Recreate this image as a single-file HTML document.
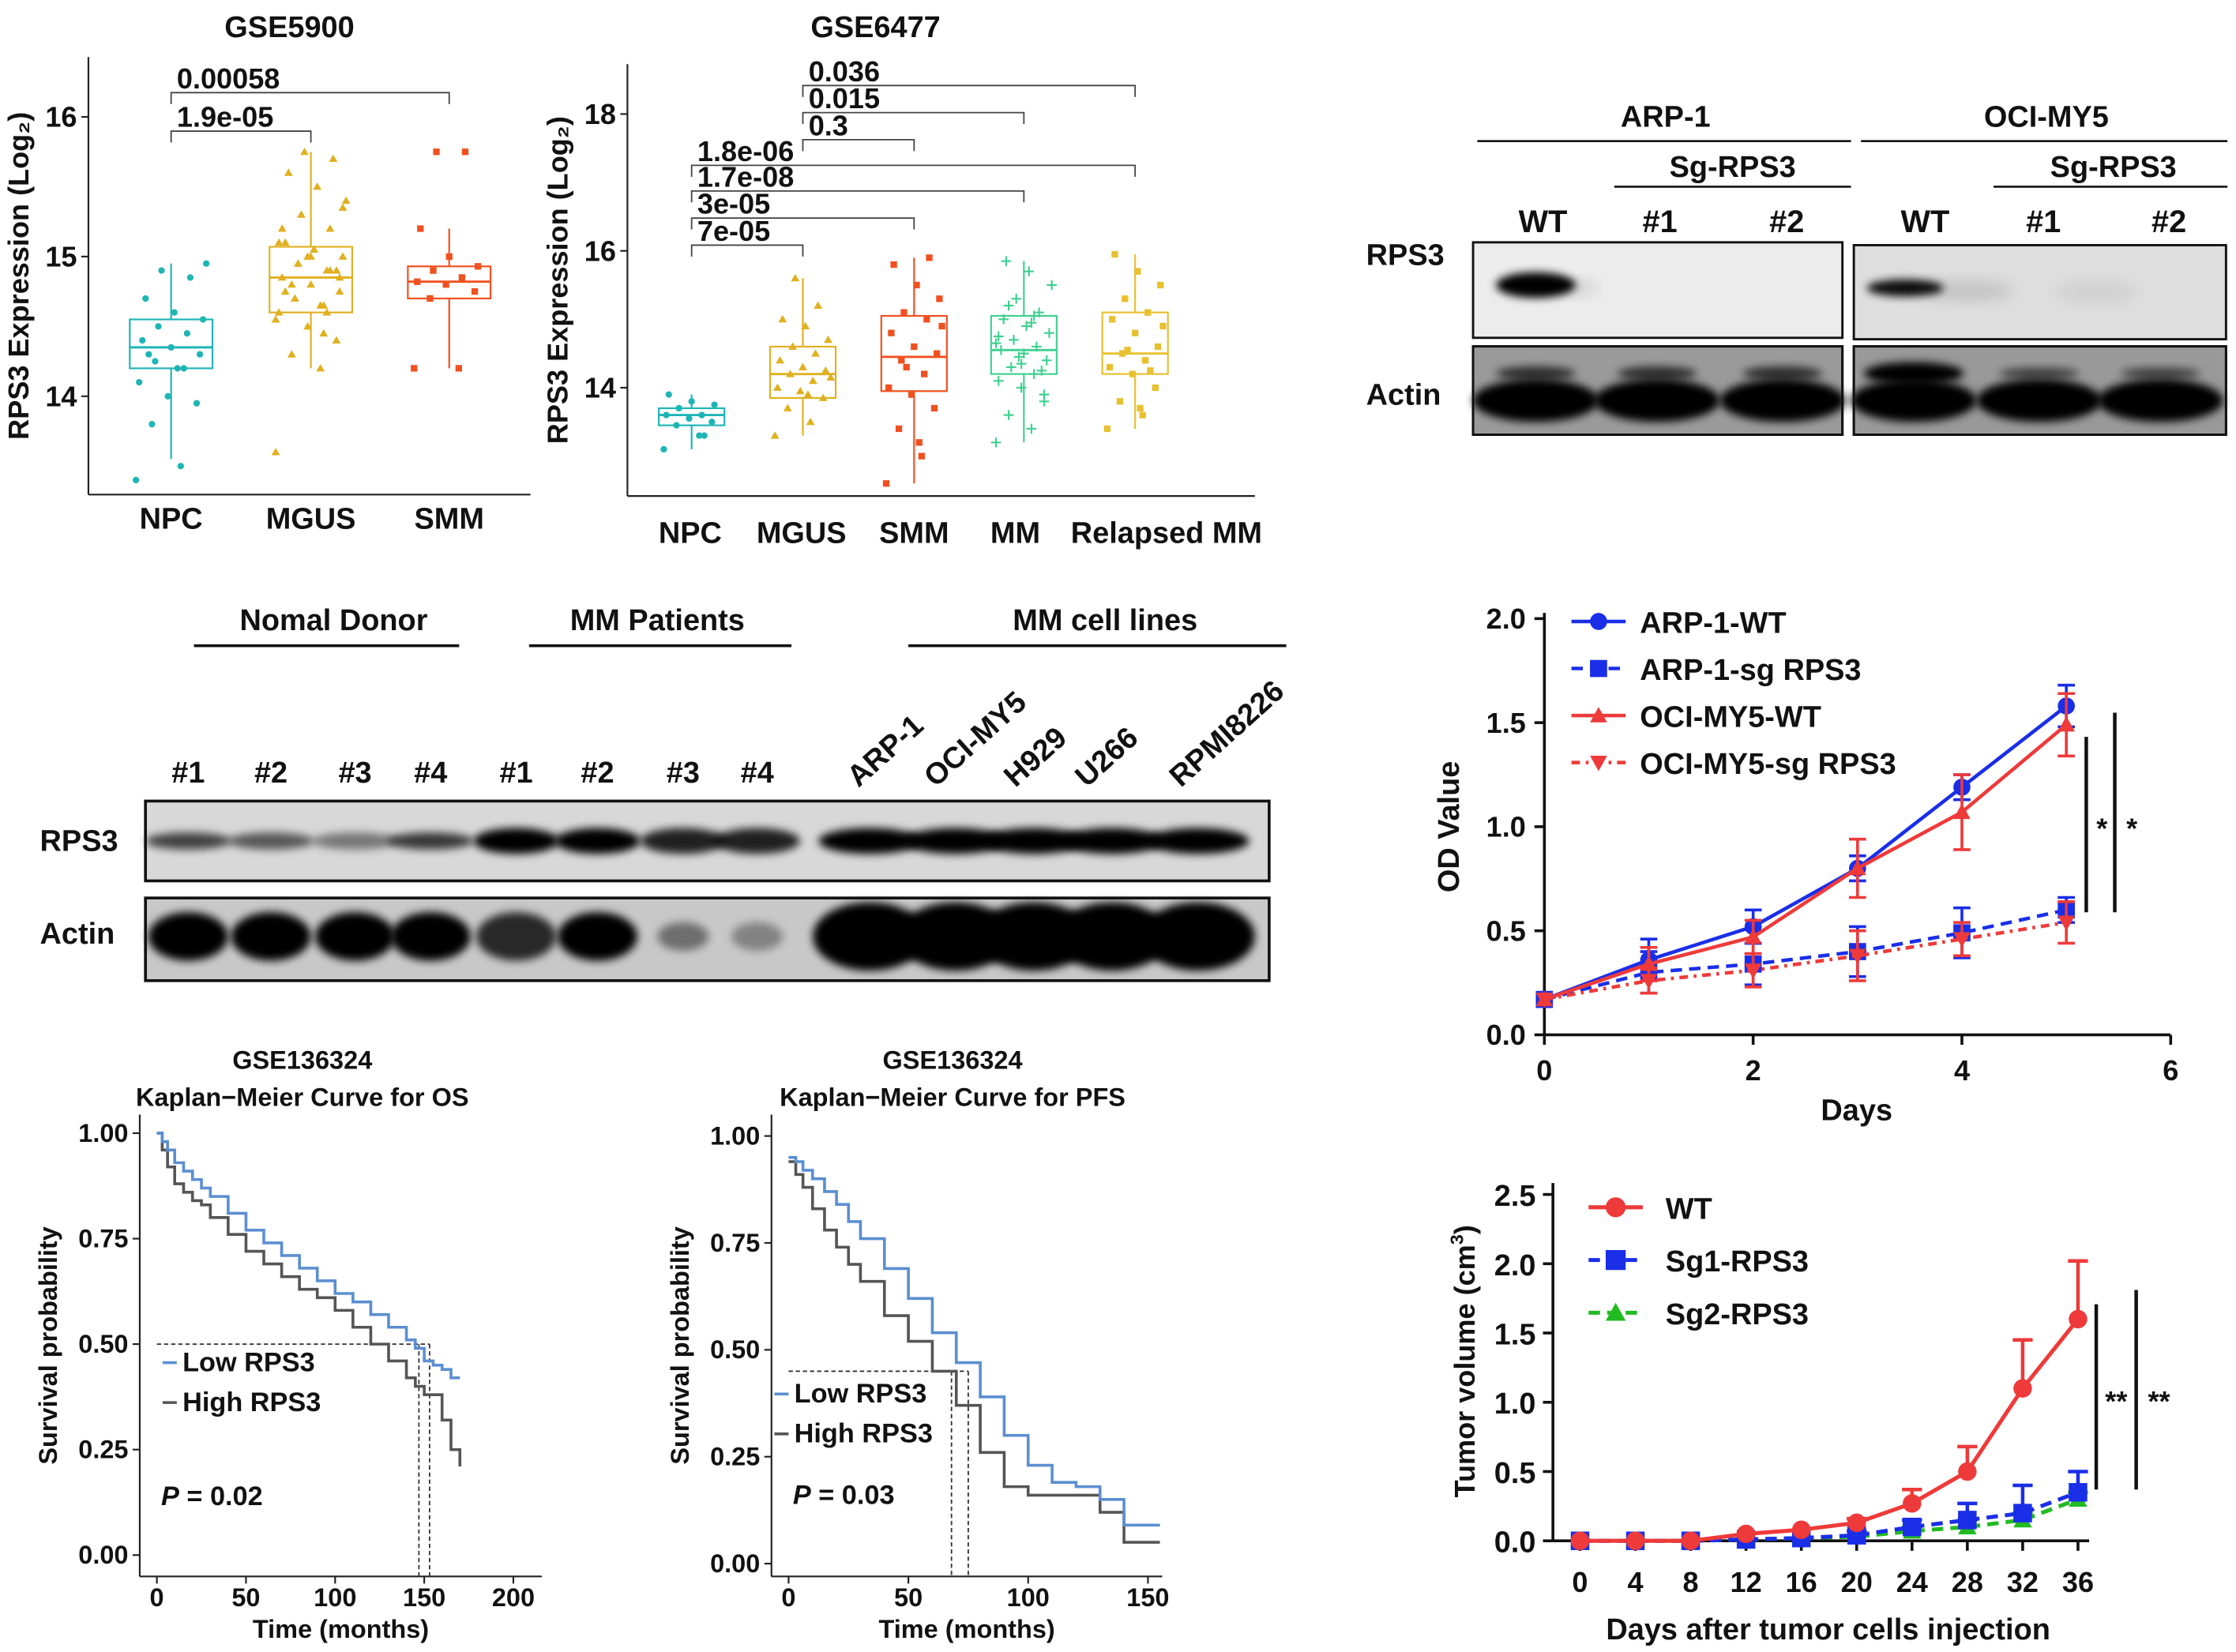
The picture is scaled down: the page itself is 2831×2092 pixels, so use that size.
<!DOCTYPE html>
<html><head><meta charset="utf-8">
<style>
html,body{margin:0;padding:0;background:#fff}
svg{display:block}
text{font-family:"Liberation Sans",sans-serif;font-weight:bold;fill:#111}
</style></head>
<body>
<svg id="fig" width="2831" height="2092" viewBox="0 0 1568 1159" preserveAspectRatio="none" xmlns="http://www.w3.org/2000/svg">
<defs>
<filter id="blur2" x="-20%" y="-50%" width="140%" height="200%"><feGaussianBlur stdDeviation="3"/></filter>
<filter id="blur4" x="-20%" y="-50%" width="140%" height="200%"><feGaussianBlur stdDeviation="5"/></filter>
</defs>
<g id="root"></g>
</svg>
<script>
// ---------- data ----------
const g1Cats=["NPC","MGUS","SMM"];
const g1Q1=[14.2,14.6,14.7], g1Med=[14.35,14.85,14.82], g1Q3=[14.55,15.07,14.93];
const g1Lo=[13.55,14.2,14.2], g1Hi=[14.95,15.75,15.2];
const g1Pts=[[13.4,13.5,13.8,13.95,14.0,14.1,14.2,14.25,14.3,14.35,14.4,14.45,14.5,14.55,14.6,14.7,14.85,14.9,14.95,14.2,14.3],
 [13.6,14.2,14.3,14.4,14.5,14.6,14.65,14.7,14.75,14.8,14.85,14.9,14.95,15.0,15.05,15.1,15.2,15.3,15.4,15.5,15.6,15.7,15.75,14.55,14.65,14.8,14.9,15.0,15.1,14.45,14.7,14.85,15.0,15.2,14.6,14.95,15.35,15.05,14.75,14.9],
 [14.2,14.2,14.7,14.75,14.8,14.82,14.85,14.9,14.93,15.0,15.2,15.75,15.75]];
const g1Brk=[["1.9e-05",0,1],["0.00058",0,2]];
const g2Cats=["NPC","MGUS","SMM","MM","Relapsed MM"];
const g2Q1=[13.45,13.85,13.95,14.2,14.2], g2Med=[13.6,14.2,14.45,14.55,14.5], g2Q3=[13.7,14.6,15.05,15.05,15.1];
const g2Lo=[13.1,13.3,12.6,13.2,13.4], g2Hi=[13.9,15.6,15.9,15.85,15.95];
const g2Brk=[["7e-05",0,1],["3e-05",0,2],["1.7e-08",0,3],["1.8e-06",0,4],["0.3",1,2],["0.015",1,3],["0.036",1,4]];
const g2Pts=[[13.1,13.3,13.45,13.5,13.55,13.6,13.6,13.7,13.75,13.8,13.9,13.3],
 [13.3,13.5,13.7,13.85,13.95,14.0,14.1,14.2,14.25,14.3,14.4,14.5,14.6,14.7,14.9,15.0,15.2,15.6,14.15,13.9],
 [12.6,13.0,13.4,13.7,13.9,14.0,14.2,14.4,14.5,14.6,14.8,15.0,15.1,15.3,15.5,15.8,15.9,14.3,14.9,13.2],
 [13.2,13.4,13.6,13.8,14.0,14.1,14.2,14.3,14.4,14.5,14.55,14.6,14.7,14.8,14.9,15.0,15.1,15.3,15.5,15.7,15.85,14.25,14.45,14.65,14.95,15.2,13.9,14.35,14.75,15.05],
 [13.4,13.6,13.8,14.0,14.2,14.3,14.4,14.5,14.6,14.8,15.0,15.1,15.3,15.5,15.7,15.95,14.25,14.55,14.9,13.7]];
const odDays=[0,1,2,3,4,5];
const odNames=["ARP-1-WT","ARP-1-sg RPS3","OCI-MY5-WT","OCI-MY5-sg RPS3"];
const odArpWT=[0.17,0.36,0.52,0.80,1.19,1.58], odArpWTe=[0,0.1,0.08,0.06,0.06,0.1];
const odArpSg=[0.17,0.30,0.34,0.40,0.49,0.60], odArpSge=[0,0.1,0.1,0.12,0.12,0.06];
const odOciWT=[0.17,0.34,0.47,0.80,1.07,1.49], odOciWTe=[0,0.08,0.08,0.14,0.18,0.15];
const odOciSg=[0.17,0.26,0.31,0.38,0.46,0.54], odOciSge=[0,0.06,0.08,0.12,0.08,0.1];
const tvDays=[0,4,8,12,16,20,24,28,32,36];
const tvWT=[0,0,0,0.05,0.08,0.13,0.27,0.5,1.1,1.6], tvWTe=[0,0,0,0.01,0.02,0.03,0.1,0.18,0.35,0.42];
const tvSg1=[0,0,0,0.01,0.02,0.04,0.1,0.15,0.2,0.35], tvSg1e=[0,0,0,0.01,0.02,0.03,0.05,0.12,0.2,0.15];
const tvSg2=[0,0,0,0.01,0.02,0.03,0.07,0.1,0.15,0.3], tvSg2e=[0,0,0,0.01,0.01,0.02,0.03,0.05,0.05,0.05];
const osLowT=[0,3,6,10,15,20,25,30,40,50,60,70,80,90,100,110,120,130,140,145,150,155,160,165,170];
const osLowS=[1,.98,.96,.93,.91,.89,.87,.85,.81,.77,.74,.71,.68,.65,.62,.60,.57,.54,.51,.49,.46,.45,.44,.42,.42];
const osHighT=[0,3,6,10,15,20,25,30,40,50,60,70,80,90,100,110,120,130,140,145,150,155,160,165,170];
const osHighS=[1,.96,.92,.88,.86,.84,.83,.80,.76,.72,.69,.66,.63,.61,.58,.54,.50,.46,.42,.40,.38,.38,.32,.25,.21];
const pfsLowT=[0,3,6,10,15,20,25,30,40,50,60,70,80,90,100,110,120,130,140,150,155];
const pfsLowS=[.95,.94,.92,.90,.87,.84,.80,.76,.69,.62,.54,.47,.39,.30,.23,.19,.18,.15,.09,.09,.09];
const pfsHighT=[0,3,6,10,15,20,25,30,40,50,60,70,80,90,100,110,120,130,140,150,155];
const pfsHighS=[.94,.91,.88,.83,.78,.74,.70,.66,.58,.52,.45,.37,.26,.18,.16,.16,.16,.12,.05,.05,.05];

// ---------- helpers ----------
const NS="http://www.w3.org/2000/svg";
const root=document.getElementById('root');
function el(tag,attrs,parent,txt){const e=document.createElementNS(NS,tag);for(const k in attrs)e.setAttribute(k,attrs[k]);if(txt!==undefined)e.textContent=txt;(parent||root).appendChild(e);return e;}
function line(x1,y1,x2,y2,st,w,p,dash){const a={x1,y1,x2,y2,stroke:st||'#111','stroke-width':w||1.5};if(dash)a['stroke-dasharray']=dash;return el('line',a,p);}
function txt(x,y,s,size,anchor,p,extra){const a={x,y,'font-size':size,'text-anchor':anchor||'middle'};Object.assign(a,extra||{});return el('text',a,p,s);}
function grp(name){const g=el('g',{},root);return g;}
function pt(p,shape,x,y,c){
  if(shape==0)el('circle',{cx:x,cy:y,r:2.3,fill:c},p);
  else if(shape==1)el('path',{d:`M${x},${y-3}L${x+3},${y+2.2}L${x-3},${y+2.2}Z`,fill:c},p);
  else if(shape==2)el('rect',{x:x-2.3,y:y-2.3,width:4.6,height:4.6,fill:c},p);
  else el('path',{d:`M${x-3.5},${y}H${x+3.5}M${x},${y-3.5}V${y+3.5}`,stroke:c,'stroke-width':1.2},p);
}

// ---------- boxplot ----------
function boxplot(name,title,tx,x0,xEnd,yTop,yBot,ys,ticks,cats,cx,lblx,cols,shapes,q1,med,q3,lo,hi,pts,brk,brkY,catY,bw,ylab){
  const g=grp(name);
  const Y=v=>ys(v);
  txt(tx,26,title,21,'middle',g);
  line(x0,yTop,x0,yBot,'#222',1.2,g);line(x0,yBot,xEnd,yBot,'#222',1.2,g);
  ticks.forEach(t=>{line(x0-5,Y(t),x0,Y(t),'#222',1.2,g);const e=txt(x0-8,Y(t)+7,String(t),20,'end',g);});
  const yl=txt(0,0,ylab[0],20,'middle',g,{transform:`translate(${ylab[1]},${(yTop+yBot)/2}) rotate(-90)`});
  
  cats.forEach((c,i)=>{
    const x=cx[i];
    const e=txt(lblx[i],catY,c,21,'middle',g);
    line(x,Y(hi[i]),x,Y(q3[i]),cols[i],1.2,g);line(x,Y(q1[i]),x,Y(lo[i]),cols[i],1.2,g);
    const r=el('rect',{x:x-bw/2,y:Y(q3[i]),width:bw,height:Y(q1[i])-Y(q3[i]),fill:'none',stroke:cols[i],'stroke-width':1.2},g);
    
    line(x-bw/2,Y(med[i]),x+bw/2,Y(med[i]),cols[i],1.6,g);
    (pts[i]||[]).forEach((v,j)=>{const jx=x+(((j*37)%23)/22-0.5)*bw*0.85;pt(g,shapes[i],jx,Y(v),cols[i]);});
  });
  brk.forEach((b,k)=>{
    const y=brkY[k],a=cx[b[1]],c=cx[b[2]];
    el('path',{d:`M${a},${y+8}V${y}H${c}V${y+8}`,fill:'none',stroke:'#444','stroke-width':1},g);
    const e=txt(a+4,y-3,b[0],20,'start',g);
  });
}
const y1=v=>180-(v-15)*98;
boxplot('gse5900-boxplot','GSE5900',203,62,372,40,347,y1,[14,15,16],g1Cats,[120,218,315],[120,218,315],['#1fb5b5','#e0b020','#f05020'],[0,1,2],
  g1Q1,g1Med,g1Q3,g1Lo,g1Hi,g1Pts,g1Brk,[92,65],371,58,['RPS3 Expression (Log₂)',20]);
const y2=v=>176-(v-16)*48;
boxplot('gse6477-boxplot','GSE6477',614,440,880,45,348,y2,[14,16,18],g2Cats,[485,563,641,718,796],[484,562,641,712,818],['#1fb5b5','#e0b020','#f05020','#40d090','#e8c030'],[0,1,2,3,2],
  g2Q1,g2Med,g2Q3,g2Lo,g2Hi,g2Pts,g2Brk,[172,153,134,116,98,79,60],381,46,['RPS3 Expression (Log₂)',398]);

// ---------- western blots ----------
function blotBox(g,x,y,w,h,bg){el('rect',{x,y,width:w,height:h,fill:bg||'#eee',stroke:'#111','stroke-width':1.6},g);}
function band(g,cx,cy,rx,ry,op,f){el('ellipse',{cx,cy,rx,ry,fill:'#000','fill-opacity':op,filter:'url(#'+(f||'blur2')+')'},g);}
(function(){
  const g=grp('western-blot-sg-rps3');
  txt(1168,89,'ARP-1',21,'middle',g);txt(1435,89,'OCI-MY5',21,'middle',g);
  line(1036,99,1298,99,'#111',1.5,g);line(1305,99,1562,99,'#111',1.5,g);
  txt(1215,124,'Sg-RPS3',21,'middle',g);txt(1482,124,'Sg-RPS3',21,'middle',g);
  line(1132,131,1298,131,'#111',1.5,g);line(1398,131,1562,131,'#111',1.5,g);
  [['WT',1082],['#1',1164],['#2',1253],['WT',1350],['#1',1433],['#2',1521]].forEach(a=>txt(a[1],163,a[0],22,'middle',g));
  txt(958,186,'RPS3',21,'start',g);txt(958,284,'Actin',21,'start',g);
  blotBox(g,1033,170,259,67,'#ececec');blotBox(g,1300,172,261,66,'#dedede');
  band(g,1077,200,28,9,1);band(g,1336,202,27,6,0.95);band(g,1108,202,12,5,0.12,'blur4');band(g,1380,204,32,7,0.12,'blur4');band(g,1470,205,30,8,0.06,'blur4');
  blotBox(g,1033,243,259,62,'#9a9a9a');blotBox(g,1300,243,261,62,'#999');
  [1077,1162,1250].forEach(c=>{band(g,c,281,44,15,1);band(g,c,262,28,5,0.7);});
  [1342,1430,1515].forEach((c,i)=>{band(g,c,281,44,15,1);band(g,c,262,i?28:35,i?4:8,i?0.6:1);});
  el('rect',{x:1033,y:243,width:259,height:62,fill:'none',stroke:'#111','stroke-width':1.6},g);
  el('rect',{x:1300,y:243,width:261,height:62,fill:'none',stroke:'#111','stroke-width':1.6},g);
})();
(function(){
  const g=grp('western-blot-patients');
  txt(234,442,'Nomal Donor',21,'middle',g);txt(461,442,'MM Patients',21,'middle',g);txt(775,442,'MM cell lines',21,'middle',g);
  line(136,453,322,453,'#111',2,g);line(371,453,555,453,'#111',2,g);line(637,453,902,453,'#111',2,g);
  const lx=[132,190,249,302,362,419,479,531];
  ['#1','#2','#3','#4','#1','#2','#3','#4'].forEach((s,i)=>txt(lx[i],549,s,21,'middle',g));
  [['ARP-1',602],['OCI-MY5',656],['H929',712],['U266',762],['RPMI8226',828]].forEach(a=>txt(0,0,a[0],21,'start',g,{transform:`translate(${a[1]},553) rotate(-42)`}));
  txt(28,597,'RPS3',21,'start',g);txt(28,662,'Actin',21,'start',g);
  blotBox(g,102,562,788,56,'#d8d8d8');
  const rp=[0.7,0.6,0.45,0.75,1,1,0.85,0.85,1,1,1,1,1];const rx=[132,190,249,302,362,419,479,531,610,670,725,780,840];
  rx.forEach((c,i)=>band(g,c,590,i>7?36:30,i>3?9:6,rp[i]));
  el('rect',{x:102,y:562,width:788,height:56,fill:'none',stroke:'#111','stroke-width':2},g);
  blotBox(g,102,630,788,58,'#c8c8c8');
  const ap=[1,1,1,1,0.8,1,0.45,0.35];lx.forEach((c,i)=>band(g,c,657,i>5?18:28,i>5?10:17,ap[i]));
  [610,670,725,780,840].forEach(c=>band(g,c,657,40,24,1));
  el('rect',{x:102,y:630,width:788,height:58,fill:'none',stroke:'#111','stroke-width':2},g);
})();

// ---------- OD line chart ----------
(function(){
  const g=grp('od-value-chart');
  const X=d=>1083+d*73.2, Y=v=>726-v*146;
  line(1083,430,1083,726,'#111',2,g);line(1083,726,1522,726,'#111',2,g);
  [0,0.5,1,1.5,2].forEach(t=>{line(1076,Y(t),1083,Y(t),'#111',2,g);txt(1070,Y(t)+7,t.toFixed(1),20,'end',g);});
  [0,2,4,6].forEach(t=>{line(X(t),726,X(t),733,'#111',2,g);txt(X(t),758,String(t),20,'middle',g);});
  txt(1302,786,'Days',21,'middle',g);
  txt(0,0,'OD Value',21,'middle',g,{transform:'translate(1023,580) rotate(-90)'});
  const series=[[odArpWT,odArpWTe,'#1a2ee8','',0],[odArpSg,odArpSge,'#1a2ee8','8,5',1],[odOciWT,odOciWTe,'#ee3a3a','',2],[odOciSg,odOciSge,'#ee3a3a','6,4,2,4',3]];
  function marker(p,k,x,y,c,r){if(k==0)el('circle',{cx:x,cy:y,r,fill:c},p);else if(k==1)el('rect',{x:x-r,y:y-r,width:2*r,height:2*r,fill:c},p);
    else if(k==2)el('path',{d:`M${x},${y-r}L${x+r},${y+r*0.8}L${x-r},${y+r*0.8}Z`,fill:c},p);else el('path',{d:`M${x},${y+r}L${x+r},${y-r*0.8}L${x-r},${y-r*0.8}Z`,fill:c},p);}
  series.forEach(s=>{
    const sg=el('g',{},g);
    const d=odDays.map((x,i)=>(i?'L':'M')+X(x)+','+Y(s[0][i])).join('');
    const p={d,fill:'none',stroke:s[2],'stroke-width':2.5};if(s[3])p['stroke-dasharray']=s[3];el('path',p,sg);
    odDays.forEach((x,i)=>{const e=s[1][i];if(e){line(X(x),Y(s[0][i]-e),X(x),Y(s[0][i]+e),s[2],2,sg);line(X(x)-6,Y(s[0][i]+e),X(x)+6,Y(s[0][i]+e),s[2],2,sg);line(X(x)-6,Y(s[0][i]-e),X(x)+6,Y(s[0][i]-e),s[2],2,sg);}
      marker(sg,s[4],X(x),Y(s[0][i]),s[2],6);});
  });
  series.forEach((s,i)=>{const y=436+i*33;const p={x1:1102,y1:y,x2:1140,y2:y,stroke:s[2],'stroke-width':2.5};if(s[3])p['stroke-dasharray']=s[3];el('line',p,g);marker(g,s[4],1121,y,s[2],6);
    const e=txt(1150,y+8,odNames[i],21,'start',g);});
  line(1463,517,1463,640,'#111',2.5,g);line(1483,500,1483,640,'#111',2.5,g);
  txt(1474,588,'*',20,'middle',g);txt(1495,588,'*',20,'middle',g);
})();

// ---------- tumor volume ----------
(function(){
  const g=grp('tumor-volume-chart');
  const X=d=>1108+d*9.7, Y=v=>1081-v*97.2;
  line(1089,830,1089,1081,'#111',2,g);line(1089,1081,1465,1081,'#111',2,g);
  [0,0.5,1,1.5,2,2.5].forEach(t=>{line(1082,Y(t),1089,Y(t),'#111',2,g);txt(1077,Y(t)+8,t.toFixed(1),21,'end',g);});
  tvDays.forEach(t=>{line(X(t),1081,X(t),1088,'#111',2,g);txt(X(t),1117,String(t),20,'middle',g);});
  txt(1282,1150,'Days after tumor cells injection',21,'middle',g);
  const yt=txt(0,0,'Tumor volume (cm',20,'middle',g,{transform:'translate(1034,955) rotate(-90)'});
  el('tspan',{'font-size':13,dy:-8},yt,'3');el('tspan',{dy:8},yt,')');
  const S=[[tvWT,tvWTe,'#ee3a3a','',0,'WT'],[tvSg1,tvSg1e,'#1a2ee8','8,5',1,'Sg1-RPS3'],[tvSg2,tvSg2e,'#22bb22','8,5',2,'Sg2-RPS3']];
  function mk(p,k,x,y,c,r){if(k==0)el('circle',{cx:x,cy:y,r,fill:c},p);else if(k==1)el('rect',{x:x-r,y:y-r,width:2*r,height:2*r,fill:c},p);else el('path',{d:`M${x},${y-r}L${x+r},${y+r*0.8}L${x-r},${y+r*0.8}Z`,fill:c},p);}
  S.slice().reverse().forEach(s=>{
    const sg=el('g',{},g);
    const p={d:tvDays.map((x,i)=>(i?'L':'M')+X(x)+','+Y(s[0][i])).join(''),fill:'none',stroke:s[2],'stroke-width':2.8};if(s[3])p['stroke-dasharray']=s[3];el('path',p,sg);
    tvDays.forEach((x,i)=>{const e=s[1][i];if(e>0.02){line(X(x),Y(s[0][i]),X(x),Y(s[0][i]+e),s[2],2.5,sg);line(X(x)-7,Y(s[0][i]+e),X(x)+7,Y(s[0][i]+e),s[2],2.5,sg);}mk(sg,s[4],X(x),Y(s[0][i]),s[2],6.5);});
  });
  S.forEach((s,i)=>{const y=847+i*37;const p={x1:1114,y1:y,x2:1152,y2:y,stroke:s[2],'stroke-width':2.8};if(s[3])p['stroke-dasharray']=s[3];el('line',p,g);mk(g,s[4],1133,y,s[2],7);
    txt(1168,y+8,s[5],21,'start',g);});
  line(1470,915,1470,1045,'#111',2.5,g);line(1498,905,1498,1045,'#111',2.5,g);
  txt(1484,990,'**',20,'middle',g);txt(1514,990,'**',20,'middle',g);
})();

// ---------- KM curves ----------
function km(name,t1,t2,x0,xScale,y0,yTopPx,xTicks,xEnd,lowT,lowS,highT,highS,med,medX,legY,legX,pTxt,pX,pY,tcx){
  const g=grp(name);
  const X=t=>x0+t*xScale, Y=s=>y0-s*(y0-yTopPx);
  txt(tcx,750,t1,18,'middle',g);txt(tcx,776,t2,18,'middle',g);
  const ax=x0-12;
  line(ax,782,ax,1106,'#222',1.2,g);line(ax,1106,xEnd,1106,'#222',1.2,g);
  [0,0.25,0.5,0.75,1].forEach(s=>{line(ax-5,Y(s),ax,Y(s),'#222',1.2,g);txt(ax-8,Y(s)+6,s.toFixed(2),18,'end',g);});
  xTicks.forEach(t=>{line(X(t),1106,X(t),1111,'#222',1.2,g);txt(X(t),1127,String(t),18,'middle',g);});
  txt((ax+xEnd)/2,1149,'Time (months)',18,'middle',g);
  txt(0,0,'Survival probability',18,'middle',g,{transform:`translate(${ax-58},${(782+1106)/2}) rotate(-90)`});
  line(X(0),Y(med),X(Math.max(...medX)),Y(med),'#333',1,g,'3,2');
  medX.forEach(m=>line(X(m),Y(med),X(m),1106,'#333',1,g,'3,2'));
  function step(T,S,c,n){let d='M'+X(T[0])+','+Y(S[0]);for(let i=1;i<T.length;i++)d+='H'+X(T[i])+'V'+Y(S[i]);const p=el('path',{d,fill:'none',stroke:c,'stroke-width':2},g);}
  step(highT,highS,'#555','curve-high-rps3');step(lowT,lowS,'#5b8fd0','curve-low-rps3');
  line(legX-14,legY-6,legX-4,legY-6,'#5b8fd0',2,g);txt(legX,legY,'Low RPS3',19,'start',g);
  line(legX-14,legY+22,legX-4,legY+22,'#555',2,g);txt(legX,legY+28,'High RPS3',19,'start',g);
  const pt=txt(pX,pY,'',19,'start',g);el('tspan',{'font-style':'italic'},pt,'P');el('tspan',{},pt,' '+pTxt);
}
km('km-os','GSE136324','Kaplan−Meier Curve for OS',110,1.25,1091,795,[0,50,100,150,200],380,osLowT,osLowS,osHighT,osHighS,0.5,[147,153],962,128,'= 0.02',113,1056,212);
km('km-pfs','GSE136324','Kaplan−Meier Curve for PFS',553,1.68,1097,797,[0,50,100,150],815,pfsLowT,pfsLowS,pfsHighT,pfsHighS,0.45,[68,75],984,557,'= 0.03',556,1055,668);
</script>
</body></html>
